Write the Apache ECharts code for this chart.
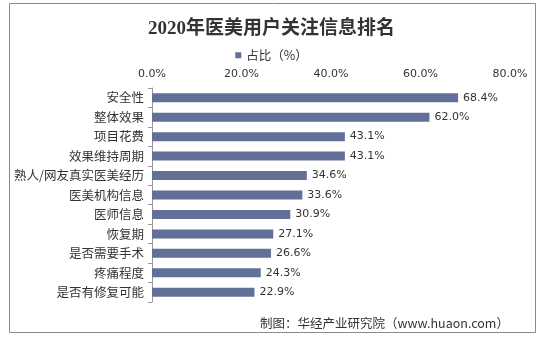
<!DOCTYPE html>
<html><head><meta charset="utf-8">
<script src="https://cdn.jsdelivr.net/npm/echarts@6/dist/echarts.min.js"></script>
<style>html,body{margin:0;padding:0;background:#fff}#c{width:543px;height:341px}</style>
</head><body><div id="c"></div>
<script>
const categories = ["安全性","整体效果","项目花费","效果维持周期","熟人/网友真实医美经历","医美机构信息","医师信息","恢复期","是否需要手术","疼痛程度","是否有修复可能"];
const values = [68.4,62.0,43.1,43.1,34.6,33.6,30.9,27.1,26.6,24.3,22.9];
const seriesName = "占比（%）";
const titleText = "2020年医美用户关注信息排名";
const sourceText = "制图：华经产业研究院（www.huaon.com）";

const chart = echarts.init(document.getElementById('c'), null, {renderer:'canvas'});
chart.setOption({
  animation:false,
  backgroundColor:'#fff',
  graphic:[{type:'rect',shape:{x:9.5,y:3.5,width:526,height:329},style:{fill:'none',stroke:'#8a8a8a',lineWidth:1}}],
  title:[{text:titleText,left:'center',top:15,textStyle:{fontFamily:'"Liberation Serif","Noto Sans CJK SC",serif',fontWeight:'bold',fontSize:19,color:'#333'}},
         {text:sourceText,left:255,top:312,textStyle:{fontFamily:'"Noto Sans CJK SC",sans-serif',fontWeight:'normal',fontSize:12.5,color:'#333'}}],
  legend:{data:[seriesName],top:44,left:'center',itemWidth:6,itemHeight:6,itemGap:3,icon:'rect',textStyle:{fontSize:12.5,color:'#333',fontFamily:'"Noto Sans CJK SC",sans-serif'}},
  grid:{left:152,right:33,top:88,bottom:39,containLabel:false},
  xAxis:{type:'value',position:'top',min:0,max:80,interval:20,
    axisLabel:{formatter:v=>v.toFixed(1)+'%',fontSize:11,color:'#333',margin:8,fontFamily:'"DejaVu Sans",sans-serif'},
    axisLine:{show:false},axisTick:{show:false},splitLine:{show:false}},
  yAxis:{type:'category',data:categories,inverse:true,
    axisLine:{show:true,lineStyle:{color:'#999'}},
    axisTick:{show:true,length:4,lineStyle:{color:'#999'}},
    axisLabel:{fontSize:12.5,color:'#333',margin:8,fontFamily:'"Noto Sans CJK SC",sans-serif'}},
  series:[{name:seriesName,type:'bar',data:values,barWidth:9,itemStyle:{color:'#626f99'},
    label:{show:true,position:'right',distance:5,formatter:p=>p.value.toFixed(1)+'%',fontSize:11,color:'#333',fontFamily:'"DejaVu Sans",sans-serif'}}]
});
</script></body></html>
